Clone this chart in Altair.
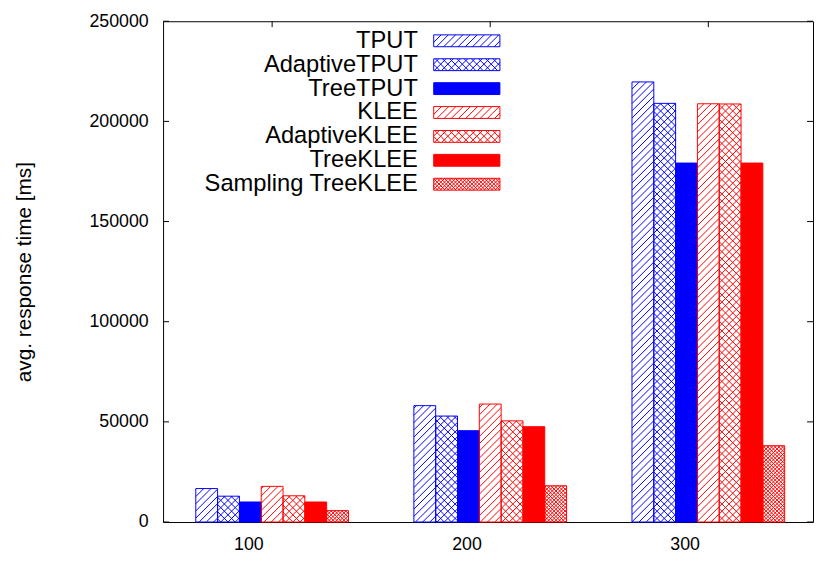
import json
import math
import altair as alt
import pandas as pd

# ---------------- data ----------------
groups = ["100", "200", "300"]
series = ["TPUT", "AdaptiveTPUT", "TreeTPUT", "KLEE", "AdaptiveKLEE",
          "TreeKLEE", "Sampling TreeKLEE"]
tput = [16700, 58100, 219700]
adaptive_tput = [12900, 52900, 209000]
tree_tput = [10000, 45600, 179200]
klee = [17800, 58900, 208800]
adaptive_klee = [13100, 50500, 208700]
tree_klee = [10000, 47600, 179200]
sampling_tree_klee = [5700, 18100, 38100]
values = [tput, adaptive_tput, tree_tput, klee, adaptive_klee, tree_klee,
          sampling_tree_klee]
y_ticks = [0, 50000, 100000, 150000, 200000, 250000]

# ---------------- styles / layout ----------------
colors = ["#0000ff", "#0000ff", "#0000ff", "#ff0000", "#ff0000", "#ff0000", "#ff0000"]
patterns = ["hatch", "cross", "solid", "hatch", "cross", "solid", "fine"]
FONT = "Liberation Sans"
W, H = 658, 507
X_DOM = [-0.5, 2.48]
Y_MAX = 250000
BAR_W = 0.1
TICK = 6
px_x = W / (X_DOM[1] - X_DOM[0])
px_y = H / Y_MAX


def hatch_segments(x0, x1, y0, y1, pattern):
    """Hatch lines (pixel units, y up) clipped to a rectangle."""
    segs = []
    if pattern in ("hatch", "cross"):
        d = 7.3
    elif pattern == "fine":
        d = 3.7
    else:
        return segs
    w, h = x1 - x0, y1 - y0
    fams = ["/"] if pattern == "hatch" else ["/", "\\"]
    for fam in fams:
        if fam == "/":
            off = x0 - y0
            kmin = math.floor((-w - off) / d)
            kmax = math.ceil((h - off) / d)
            for k in range(kmin, kmax + 1):
                c = k * d + off
                ua, ub = max(0, -c), min(w, h - c)
                if ub - ua > 0.3:
                    segs.append((x0 + ua, y0 + ua + c, x0 + ub, y0 + ub + c))
        else:
            off = -x0 - y0
            kmin = math.floor((0 - off) / d)
            kmax = math.ceil((w + h - off) / d)
            for k in range(kmin, kmax + 1):
                c = k * d + off
                ua, ub = max(0, c - h), min(w, c)
                if ub - ua > 0.3:
                    segs.append((x0 + ua, y0 - ua + c, x0 + ub, y0 - ub + c))
    return segs


# bars table
bar_rows = []
hatch_rows = []
for s, name in enumerate(series):
    for g, grp in enumerate(groups):
        v = values[s][g]
        x0 = g - 0.35 + BAR_W * s
        x1 = x0 + BAR_W
        bar_rows.append(dict(series=name, group=grp, x0=x0, x1=x1, v=v, base=0,
                             color=colors[s], solid=patterns[s] == "solid"))
        segs = hatch_segments((x0 - X_DOM[0]) * px_x, (x1 - X_DOM[0]) * px_x,
                              0, v * px_y, patterns[s])
        for (a, b, c, d) in segs:
            hatch_rows.append(dict(hx=a / px_x + X_DOM[0], hy=b / px_y,
                                   hx2=c / px_x + X_DOM[0], hy2=d / px_y,
                                   color=colors[s]))
bars_df = pd.DataFrame(bar_rows)
hatch_df = pd.DataFrame(hatch_rows)
ytick_df = pd.DataFrame({"v": y_ticks})
xtick_df = pd.DataFrame({"g": list(range(len(groups)))})

x_scale = alt.Scale(domain=X_DOM, nice=False, zero=False)
y_scale = alt.Scale(domain=[0, Y_MAX], nice=False, zero=False)
label_expr = json.dumps(groups) + "[datum.value]"
x_axis = alt.Axis(values=list(range(len(groups))), labelExpr=label_expr,
                  labelOffset=-24, labelPadding=14, title=None)
y_axis = alt.Axis(values=y_ticks, format="d", labelPadding=15,
                  title="avg. response time [ms]", titlePadding=55)

hatch = alt.Chart(hatch_df).mark_rule(strokeWidth=1).encode(
    x=alt.X("hx:Q", scale=x_scale, axis=x_axis),
    x2="hx2:Q",
    y=alt.Y("hy:Q", scale=y_scale, axis=y_axis),
    y2="hy2:Q",
    stroke=alt.Stroke("color:N", scale=None),
)

bars = alt.Chart(bars_df).mark_rect(strokeWidth=1).encode(
    x=alt.X("x0:Q", scale=x_scale, axis=x_axis),
    x2="x1:Q",
    y=alt.Y("v:Q", scale=y_scale, axis=y_axis),
    y2="base:Q",
    stroke=alt.Stroke("color:N", scale=None),
    fill=alt.condition("datum.solid", alt.Fill("color:N", scale=None),
                       alt.value("transparent")),
)

left_ticks = alt.Chart(ytick_df).mark_rule(color="black", strokeWidth=1).encode(
    y=alt.Y("v:Q", scale=y_scale, axis=y_axis), x=alt.value(0), x2=alt.value(TICK))
right_ticks = alt.Chart(ytick_df).mark_rule(color="black", strokeWidth=1).encode(
    y=alt.Y("v:Q", scale=y_scale, axis=y_axis), x=alt.value(W - TICK), x2=alt.value(W))
top_ticks = alt.Chart(xtick_df).mark_rule(color="black", strokeWidth=1).encode(
    x=alt.X("g:Q", scale=x_scale, axis=x_axis), y=alt.value(0), y2=alt.value(TICK))

main = alt.layer(hatch, bars, left_ticks, right_ticks, top_ticks)

# ---------------- legend (pixel coordinates, y up) ----------------
LEG_TEXT_X = 258
LEG_SW_X0, LEG_SW_X1 = 274, 341
LEG_Y0, LEG_DY, LEG_HALF = 19.8, 24.2, 6
leg_rows, leg_hatch = [], []
for s, name in enumerate(series):
    yc = H - (LEG_Y0 + LEG_DY * s)
    leg_rows.append(dict(name=name, tx=LEG_TEXT_X, ty=yc, sx0=LEG_SW_X0, sx1=LEG_SW_X1,
                         sy0=yc - LEG_HALF, sy1=yc + LEG_HALF, color=colors[s],
                         solid=patterns[s] == "solid"))
    for (a, b, c, d) in hatch_segments(LEG_SW_X0, LEG_SW_X1, yc - LEG_HALF,
                                       yc + LEG_HALF, patterns[s]):
        leg_hatch.append(dict(hx=a, hy=b, hx2=c, hy2=d, color=colors[s]))
leg_df = pd.DataFrame(leg_rows)
leg_hatch_df = pd.DataFrame(leg_hatch)
lx = alt.Scale(domain=[0, W], nice=False, zero=False)
ly = alt.Scale(domain=[0, H], nice=False, zero=False)

leg_text = alt.Chart(leg_df).mark_text(align="right", baseline="middle",
                                       font=FONT, fontSize=24, color="black").encode(
    x=alt.X("tx:Q", scale=lx, axis=None), y=alt.Y("ty:Q", scale=ly, axis=None),
    text="name:N")
leg_hatch_l = alt.Chart(leg_hatch_df).mark_rule(strokeWidth=1).encode(
    x=alt.X("hx:Q", scale=lx, axis=None), x2="hx2:Q",
    y=alt.Y("hy:Q", scale=ly, axis=None), y2="hy2:Q",
    stroke=alt.Stroke("color:N", scale=None))
leg_sw = alt.Chart(leg_df).mark_rect(strokeWidth=1).encode(
    x=alt.X("sx0:Q", scale=lx, axis=None), x2="sx1:Q",
    y=alt.Y("sy0:Q", scale=ly, axis=None), y2="sy1:Q",
    stroke=alt.Stroke("color:N", scale=None),
    fill=alt.condition("datum.solid", alt.Fill("color:N", scale=None),
                       alt.value("transparent")))
legend = alt.layer(leg_hatch_l, leg_sw, leg_text)

chart = alt.layer(main, legend).resolve_scale(
    x="independent", y="independent"
).properties(
    width=W, height=H, background="white",
    padding={"left": 5, "top": 1, "right": 0, "bottom": 0},
).configure_view(
    stroke="black", strokeWidth=1
).configure_axis(
    grid=False, domain=False, ticks=False,
    labelFont=FONT, labelFontSize=18, labelColor="black",
    titleFont=FONT, titleFontSize=21, titleFontWeight="normal", titleColor="black",
)

chart.save("out.html", embed_options={"renderer": "svg", "actions": False})
